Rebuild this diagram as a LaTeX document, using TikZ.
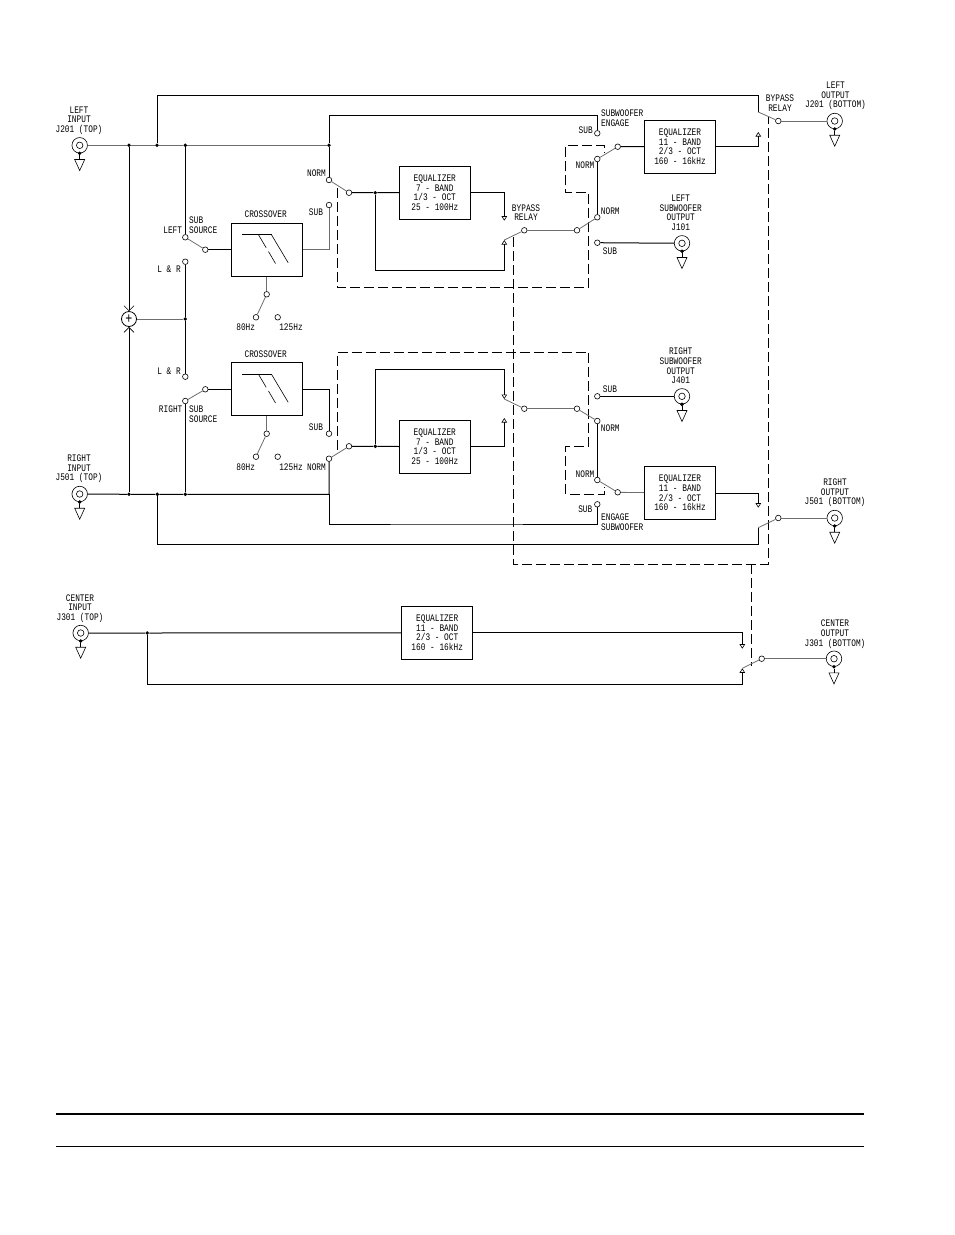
\documentclass[tikz,border=0pt]{standalone}
\usepackage{fontspec}
\setmainfont[FakeStretch=0.78]{Liberation Mono}
\usetikzlibrary{shapes.geometric,arrows.meta,calc}
\definecolor{wiregray}{RGB}{110,110,110}
\tikzset{
	wire/.style={line width=1pt},
	armwire/.style={line width=0.8pt, draw=wiregray},
	linkdash/.style={line width=1pt, dash pattern=on 10pt off 4pt},
	contact/.style={circle, draw, fill=white, line width=0.6pt, minimum size=5.6pt, inner sep=0pt},
	junction/.style={circle, fill=black, minimum size=3.8pt, inner sep=0pt},
	lbl/.style={align=center, inner sep=0pt, font=\fontsize{10}{9.6}\selectfont},
	eqbox/.style={rectangle, draw, line width=1pt, minimum width=71pt, minimum height=53pt, inner sep=0pt, align=center, font=\fontsize{10}{9.6}\selectfont},
	xobox/.style={rectangle, draw, line width=1pt, minimum width=70.6pt, minimum height=53pt},
	jack/.style={circle, draw, fill=white, line width=0.6pt, minimum size=15.5pt, inner sep=0pt},
	jackcore/.style={circle, draw, line width=0.6pt, minimum size=6.5pt, inner sep=0pt},
	gnd/.style={isosceles triangle, isosceles triangle stretches, draw, line width=0.6pt, shape border rotate=-90, minimum width=10pt, minimum height=11pt, inner sep=0pt, anchor=apex},
	relaytip/.style={-{Triangle[open, length=4.5pt, width=5.5pt, line width=0.6pt]}},
	sumtip/.style={-{Straight Barb[length=5pt, width=10pt, line width=0.6pt]}}
}
\begin{document}
\begin{tikzpicture}[x=1pt, y=-1pt]
	\useasboundingbox (0,0) rectangle (954,1235);

	% dashed relay links first, everything else sits on top
	\coordinate (dashLa) at (337.3,188);
	\coordinate (dashLb) at (337.3,287.3);
	\coordinate (dashLc) at (588.7,287.3);
	\coordinate (dashLd) at (588.7,192.7);
	\coordinate (dashLe) at (565.7,192.7);
	\coordinate (dashLf) at (565.7,145.7);
	\coordinate (dashLg) at (604.3,145.7);
	\coordinate (dashLh) at (604.3,152);
	\draw[linkdash] (dashLa) -- (dashLb) -- (dashLc) -- (dashLd) -- (dashLe) -- (dashLf) -- (dashLg) -- (dashLh);
	\coordinate (dashRa) at (337.3,450);
	\coordinate (dashRb) at (337.3,352.3);
	\coordinate (dashRc) at (588.7,352.3);
	\coordinate (dashRd) at (588.7,446.3);
	\coordinate (dashRe) at (565.7,446.3);
	\coordinate (dashRf) at (565.7,494.3);
	\coordinate (dashRg) at (604.3,494.3);
	\coordinate (dashRh) at (604.3,486.7);
	\draw[linkdash] (dashRa) -- (dashRb) -- (dashRc) -- (dashRd) -- (dashRe) -- (dashRf) -- (dashRg) -- (dashRh);
	\coordinate (dashBa) at (513.3,237);
	\coordinate (dashBb) at (513.3,564);
	\coordinate (dashBc) at (768.3,564);
	\coordinate (dashBd) at (768.3,117);
	\coordinate (dashCa) at (751.3,564);
	\coordinate (dashCb) at (751.3,666);
	\draw[linkdash] (dashBa) -- (dashBb) -- (dashBc) -- (dashBd);
	\draw[linkdash] (dashCa) -- (dashCb);

	% boxes
	\node[eqbox] (eqSevenL) at (434.8,192.8) {EQUALIZER\\7 - BAND\\1/3 - OCT\\25 - 100Hz};
	\node[eqbox] (eqSevenR) at (434.8,446.8) {EQUALIZER\\7 - BAND\\1/3 - OCT\\25 - 100Hz};
	\node[eqbox] (eqElevenL) at (680,146.8) {EQUALIZER\\11 - BAND\\2/3 - OCT\\160 - 16kHz};
	\node[eqbox] (eqElevenR) at (680,493) {EQUALIZER\\11 - BAND\\2/3 - OCT\\160 - 16kHz};
	\node[eqbox] (eqElevenC) at (437.2,632.8) {EQUALIZER\\11 - BAND\\2/3 - OCT\\160 - 16kHz};
	\node[xobox] (xoL) at (267,249.8) {};
	\node[xobox] (xoR) at (267,389.3) {};
	\foreach \xo in {xoL,xoR}{
		\draw[wire] ($(\xo.north west)+(10.6,12)$) -- ++(29.7,0);
		\draw[line width=0.6pt] ($(\xo.north west)+(40.3,12)$) -- ++(16.7,28);
		\draw[line width=0.6pt] ($(\xo.north west)+(27.3,12)$) -- ++(7.7,13);
		\draw[line width=0.6pt] ($(\xo.north west)+(37.3,28.7)$) -- ++(7,12);
	}

	% jacks
	\foreach \name/\px/\py in {jackLI/79.7/145.3, jackRI/79.7/494, jackCI/80.7/633, jackLO/834.7/121, jackRO/834.7/518, jackCO/834/658.7, jackLS/682/243.3, jackRS/682/396.3}{
		\node[jack] (\name) at (\px,\py) {};
		\node[jackcore] (\name c) at (\name) {};
		\node[junction] (\name d) at (\name.south) {};
		\node[gnd] (\name g) at ({\px},{\py+26}) {};
		\draw[wire] (\name d) -- (\name g.lower side);
	}

	% junctions
	\node[junction] (dotLa) at (129,145.3) {};
	\node[junction] (dotLb) at (157,145.3) {};
	\node[junction] (dotLc) at (185.3,145.3) {};
	\node[junction] (dotLd) at (329,145.3) {};
	\node[junction] (dotRa) at (129,494.3) {};
	\node[junction] (dotRb) at (157.3,494.3) {};
	\node[junction] (dotRc) at (185.3,494.3) {};
	\node[junction] (dotCa) at (147.3,633) {};
	\node[junction] (dotSum) at (185.3,319) {};
	\node[junction] (dotEqL) at (375.3,192.7) {};
	\node[junction] (dotEqR) at (375.3,446.3) {};
	\coordinate (cornerR) at (329,494.3);

	% summing point
	\node[circle, draw, line width=0.8pt, minimum size=15pt, inner sep=0pt, font=\fontsize{15}{15}\selectfont] (sum) at (129,319) {+};

	% left sub source switch
	\node[contact] (srcLeft) at (185.3,237.3) {};
	\node[contact] (srcLRa) at (185.3,261.7) {};
	\node[contact] (srcOutL) at (205.3,249.7) {};
	\node[contact] (srcLRb) at (185.3,376.7) {};
	\node[contact] (srcRight) at (185.3,401) {};
	\node[contact] (srcOutR) at (205.3,389.3) {};
	% crossover frequency switches
	\foreach \sw/\xo/\py in {freqL/xoL/294.3, freqR/xoR/433.7}{
		\node[contact] (\sw c) at (266.7,\py) {};
		\node[contact] (\sw a) at (256,{\py+23}) {};
		\node[contact] (\sw b) at (277.7,{\py+23}) {};
		\draw[armwire] (\xo.south -| \sw c) -- (\sw c);
		\draw[armwire] (\sw c) -- (\sw a);
	}
	% norm/sub switches in front of the band equalizers
	\node[contact] (normL) at (329,180) {};
	\node[contact] (subInL) at (329,205) {};
	\node[contact] (comInL) at (349,192.7) {};
	\node[contact] (normR) at (329,458.7) {};
	\node[contact] (subInR) at (329,433.7) {};
	\node[contact] (comInR) at (349,446.3) {};
	% bypass relay commons
	\node[contact] (byOutL) at (524.3,230.3) {};
	\node[contact] (byOutR) at (524.3,408.7) {};
	\node[contact] (subOutInL) at (577,230.3) {};
	\node[contact] (subOutInR) at (577,408.7) {};
	% subwoofer output switches
	\node[contact] (subNormL) at (597.3,217.3) {};
	\node[contact] (subSubL) at (597.3,242.7) {};
	\node[contact] (subNormR) at (597.3,421) {};
	\node[contact] (subSubR) at (597.3,396.3) {};
	% subwoofer engage switches
	\node[contact] (engSubL) at (597.3,133.3) {};
	\node[contact] (engNormL) at (597.3,159) {};
	\node[contact] (engComL) at (617.7,146.7) {};
	\node[contact] (engSubR) at (597.3,504.3) {};
	\node[contact] (engNormR) at (597.3,480) {};
	\node[contact] (engComR) at (617.7,492.3) {};
	% output relays
	\node[contact] (relOutL) at (778.3,121) {};
	\node[contact] (relOutR) at (778.3,518) {};
	\node[contact] (relOutC) at (761.7,658.7) {};
	\coordinate (tipTopL) at (758.3,112);
	\coordinate (tipLowL) at (758.3,132);
	\coordinate (tipTopR) at (758.3,507.7);
	\coordinate (tipLowR) at (758.3,527.7);
	\coordinate (tipTopC) at (742.3,648.7);
	\coordinate (tipLowC) at (742.3,668.3);
	\coordinate (tipByAL) at (504.3,220.7);
	\coordinate (tipByBL) at (504.3,240);
	\coordinate (tipByAR) at (504.3,399);
	\coordinate (tipByBR) at (504.3,418);
	% routing corners
	\coordinate (topBus) at (400,95.3);
	\coordinate (engBusL) at (450,115.3);
	\coordinate (engBusR) at (450,524);
	\coordinate (lowBus) at (400,544.3);
	\coordinate (eqLoopL) at (440,270.3);
	\coordinate (eqLoopR) at (440,369.3);
	\coordinate (cenBus) at (400,684.3);

	% left channel
	\draw[armwire] (jackLI) -- (dotLa) -- (dotLb) -- (dotLc) -- (dotLd);
	\draw[wire] (dotLb) |- (topBus) -| (tipTopL);
	\draw[wire] (dotLc) -- (srcLeft);
	\draw[armwire] (srcLeft) -- (srcOutL);
	\draw[wire] (srcOutL) -- (srcOutL -| xoL.west);
	\draw[wire] (srcLRa) -- (dotSum) -- (srcLRb);
	\draw[armwire] (sum) -- (dotSum);
	\draw[armwire] (xoL.east) -| (subInL);
	\draw[wire] (dotLd) -- (normL);
	\draw[wire] (dotLd) |- (engBusL) -| (engSubL);
	\draw[armwire] (normL) -- (comInL);
	\draw[wire] (comInL) -- (dotEqL) -- (eqSevenL);
	\draw[wire, relaytip] (eqSevenL) -| (tipByAL);
	\draw[wire, relaytip] (dotEqL) |- (eqLoopL) -| (tipByBL);
	\draw[armwire] (tipByBL) -- (byOutL);
	\draw[armwire] (byOutL) -- (subOutInL);
	\draw[armwire] (subOutInL) -- (subNormL);
	\draw[wire] (subNormL) -- (engNormL);
	\draw[armwire] (engNormL) -- (engComL);
	\draw[wire] (engComL) -- (eqElevenL);
	\draw[wire] (subSubL) -- (jackLS);
	\draw[wire, relaytip] (eqElevenL) -| (tipLowL);
	\draw[armwire] (tipTopL) -- (relOutL);
	\draw[armwire] (relOutL) -- (jackLO);

	% adder
	\draw[wire, sumtip] (dotLa) -- (sum);
	\draw[wire, sumtip] (dotRa) -- (sum);

	% right channel
	\draw[wire] (jackRI) -- (dotRa) -- (dotRb) -- (dotRc) -| (normR);
	\draw[wire] (dotRb) |- (lowBus) -| (tipLowR);
	\draw[wire] (dotRc) -- (srcRight);
	\draw[armwire] (srcRight) -- (srcOutR);
	\draw[wire] (srcOutR) -- (srcOutR -| xoR.west);
	\draw[wire] (xoR.east) -| (subInR);
	\draw[wire] (cornerR) |- (engBusR) -| (engSubR);
	\draw[armwire] (normR) -- (comInR);
	\draw[wire] (comInR) -- (dotEqR) -- (eqSevenR);
	\draw[wire, relaytip] (eqSevenR) -| (tipByBR);
	\draw[wire, relaytip] (dotEqR) |- (eqLoopR) -| (tipByAR);
	\draw[armwire] (tipByAR) -- (byOutR);
	\draw[armwire] (byOutR) -- (subOutInR);
	\draw[armwire] (subOutInR) -- (subNormR);
	\draw[wire] (subNormR) -- (engNormR);
	\draw[armwire] (engNormR) -- (engComR);
	\draw[armwire] (engComR) -- (eqElevenR);
	\draw[wire] (subSubR) -- (jackRS);
	\draw[wire, relaytip] (eqElevenR) -| (tipTopR);
	\draw[armwire] (tipLowR) -- (relOutR);
	\draw[armwire] (relOutR) -- (jackRO);

	% center channel
	\draw[wire] (jackCI) -- (dotCa) -- (eqElevenC);
	\draw[wire, relaytip] (eqElevenC) -| (tipTopC);
	\draw[wire, relaytip] (dotCa) |- (cenBus) -| (tipLowC);
	\draw[armwire] (tipLowC) -- (relOutC);
	\draw[armwire] (relOutC) -- (jackCO);

	% labels
	\node[lbl] (txtLI) at (79,120.4) {LEFT\\INPUT\\J201 (TOP)};
	\node[lbl] (txtRI) at (79,469) {RIGHT\\INPUT\\J501 (TOP)};
	\node[lbl] (txtCI) at (80,608.5) {CENTER\\INPUT\\J301 (TOP)};
	\node[lbl] (txtLO) at (835.5,95.8) {LEFT\\OUTPUT\\J201 (BOTTOM)};
	\node[lbl] (txtRO) at (835,493) {RIGHT\\OUTPUT\\J501 (BOTTOM)};
	\node[lbl] (txtCO) at (835,634.2) {CENTER\\OUTPUT\\J301 (BOTTOM)};
	\node[lbl] (txtLS) at (680.7,212.8) {LEFT\\SUBWOOFER\\OUTPUT\\J101};
	\node[lbl] (txtRS) at (680.7,366) {RIGHT\\SUBWOOFER\\OUTPUT\\J401};
	\node[lbl] (txtSrcL) at (172.7,230) {LEFT};
	\node[lbl, align=left, anchor=west] (txtSubSrcL) at (189,225) {SUB\\SOURCE};
	\node[lbl] (txtRight) at (170.7,409) {RIGHT};
	\node[lbl, align=left, anchor=west] (txtSubSrcR) at (189,414) {SUB\\SOURCE};
	\node[lbl] (txtLRa) at (169,269.3) {L \& R};
	\node[lbl] (txtLRb) at (169,371.7) {L \& R};
	\node[lbl] (txtXoL) at (265.7,214.3) {CROSSOVER};
	\node[lbl] (txtXoR) at (265.7,354) {CROSSOVER};
	\node[lbl] (txtEightyL) at (245.7,326.7) {80Hz};
	\node[lbl] (txtHighL) at (291,326.7) {125Hz};
	\node[lbl] (txtEightyR) at (245.7,466.7) {80Hz};
	\node[lbl] (txtHighR) at (291,466.7) {125Hz};
	\node[lbl, anchor=east] (txtNormL) at (326,172.7) {NORM};
	\node[lbl] (txtSubL) at (316,212.3) {SUB};
	\node[lbl, anchor=east] (txtNormR) at (326,467.5) {NORM};
	\node[lbl] (txtSubR) at (316,427) {SUB};
	\node[lbl] (txtByL) at (526,212.5) {BYPASS\\RELAY};
	\node[lbl] (txtByO) at (780,103.3) {BYPASS\\RELAY};
	\node[lbl] (txtEngSubL) at (585.7,130) {SUB};
	\node[lbl] (txtEngNormL) at (585,165) {NORM};
	\node[lbl, align=left, anchor=west] (txtEngageL) at (601,118) {SUBWOOFER\\ENGAGE};
	\node[lbl] (txtSubNormL) at (610.3,211) {NORM};
	\node[lbl] (txtSubSubL) at (610,250.7) {SUB};
	\node[lbl] (txtSubSubR) at (610,388.7) {SUB};
	\node[lbl] (txtSubNormR) at (610.3,428.3) {NORM};
	\node[lbl] (txtEngNormR) at (585,474.3) {NORM};
	\node[lbl] (txtEngSubR) at (585.3,509) {SUB};
	\node[lbl, align=left, anchor=west] (txtEngageR) at (601,522) {ENGAGE\\SUBWOOFER};

	% page rules
	\coordinate (ruleAa) at (56,1113.5);
	\coordinate (ruleAb) at (864,1113.5);
	\coordinate (ruleBa) at (56,1146.5);
	\coordinate (ruleBb) at (864,1146.5);
	\draw[line width=2pt] (ruleAa) -- (ruleAb);
	\draw[line width=0.8pt] (ruleBa) -- (ruleBb);
\end{tikzpicture}
\end{document}
